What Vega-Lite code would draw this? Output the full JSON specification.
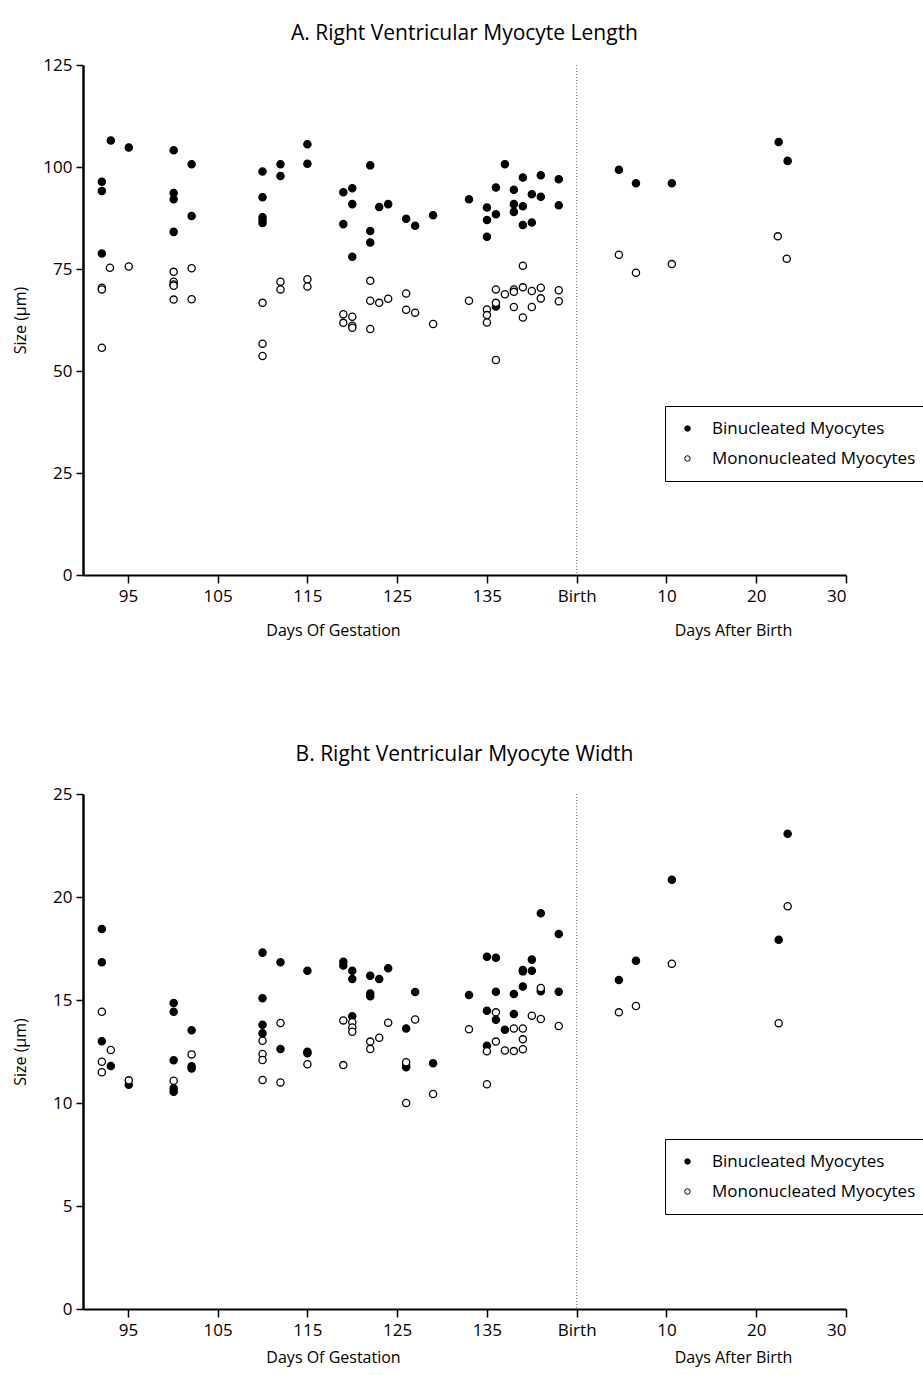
{
  "$schema": "https://vega.github.io/schema/vega-lite/v6.json",
  "padding": {"left": 12, "top": 23, "right": 0, "bottom": 2},
  "spacing": 106,
  "resolve": {"scale": {"fill": "independent"}, "legend": {"fill": "independent"}},
  "config": {
    "font": "Open Sans",
    "view": {"stroke": null},
    "axis": {
      "grid": false,
      "domainColor": "black",
      "tickColor": "black",
      "labelColor": "black",
      "titleColor": "black",
      "labelFontSize": 17,
      "titleFontSize": 16,
      "titleFontWeight": "normal",
      "labelFont": "Open Sans",
      "titleFont": "Open Sans"
    },
    "title": {"fontSize": 21, "fontWeight": "normal", "color": "black", "font": "Open Sans"},
    "legend": {
      "orient": "none",
      "strokeColor": "black",
      "fillColor": "white",
      "padding": 14,
      "labelFontSize": 17,
      "labelFont": "Open Sans",
      "labelColor": "black",
      "labelLimit": 500,
      "symbolType": "circle",
      "symbolSize": 30,
      "symbolStrokeColor": "black",
      "symbolStrokeWidth": 1,
      "rowPadding": 12,
      "labelOffset": 16
    }
  },
  "datasets": {
    "lenData": [
      {"day": 93.1, "size": 106.5, "type": "Binucleated Myocytes"},
      {"day": 95.1, "size": 104.8, "type": "Binucleated Myocytes"},
      {"day": 100.1, "size": 104.1, "type": "Binucleated Myocytes"},
      {"day": 102.1, "size": 100.7, "type": "Binucleated Myocytes"},
      {"day": 92.1, "size": 96.4, "type": "Binucleated Myocytes"},
      {"day": 92.1, "size": 94.1, "type": "Binucleated Myocytes"},
      {"day": 92.1, "size": 78.8, "type": "Binucleated Myocytes"},
      {"day": 100.1, "size": 93.6, "type": "Binucleated Myocytes"},
      {"day": 100.1, "size": 92.1, "type": "Binucleated Myocytes"},
      {"day": 102.1, "size": 88.0, "type": "Binucleated Myocytes"},
      {"day": 100.1, "size": 84.1, "type": "Binucleated Myocytes"},
      {"day": 110, "size": 98.9, "type": "Binucleated Myocytes"},
      {"day": 110, "size": 92.6, "type": "Binucleated Myocytes"},
      {"day": 110, "size": 87.7, "type": "Binucleated Myocytes"},
      {"day": 110, "size": 87.0, "type": "Binucleated Myocytes"},
      {"day": 110, "size": 86.3, "type": "Binucleated Myocytes"},
      {"day": 112, "size": 100.7, "type": "Binucleated Myocytes"},
      {"day": 112, "size": 97.8, "type": "Binucleated Myocytes"},
      {"day": 115, "size": 105.6, "type": "Binucleated Myocytes"},
      {"day": 115, "size": 100.8, "type": "Binucleated Myocytes"},
      {"day": 119, "size": 93.8, "type": "Binucleated Myocytes"},
      {"day": 120, "size": 94.8, "type": "Binucleated Myocytes"},
      {"day": 120, "size": 90.9, "type": "Binucleated Myocytes"},
      {"day": 119, "size": 86.0, "type": "Binucleated Myocytes"},
      {"day": 120, "size": 78.0, "type": "Binucleated Myocytes"},
      {"day": 122, "size": 100.4, "type": "Binucleated Myocytes"},
      {"day": 122, "size": 84.3, "type": "Binucleated Myocytes"},
      {"day": 122, "size": 81.5, "type": "Binucleated Myocytes"},
      {"day": 123, "size": 90.2, "type": "Binucleated Myocytes"},
      {"day": 124, "size": 90.9, "type": "Binucleated Myocytes"},
      {"day": 126, "size": 87.3, "type": "Binucleated Myocytes"},
      {"day": 127, "size": 85.6, "type": "Binucleated Myocytes"},
      {"day": 129, "size": 88.2, "type": "Binucleated Myocytes"},
      {"day": 133, "size": 92.1, "type": "Binucleated Myocytes"},
      {"day": 135, "size": 90.1, "type": "Binucleated Myocytes"},
      {"day": 135, "size": 87.0, "type": "Binucleated Myocytes"},
      {"day": 135, "size": 82.9, "type": "Binucleated Myocytes"},
      {"day": 136, "size": 95.0, "type": "Binucleated Myocytes"},
      {"day": 136, "size": 88.4, "type": "Binucleated Myocytes"},
      {"day": 136, "size": 65.8, "type": "Binucleated Myocytes"},
      {"day": 137, "size": 100.7, "type": "Binucleated Myocytes"},
      {"day": 138, "size": 94.4, "type": "Binucleated Myocytes"},
      {"day": 138, "size": 90.9, "type": "Binucleated Myocytes"},
      {"day": 138, "size": 89.0, "type": "Binucleated Myocytes"},
      {"day": 139, "size": 97.4, "type": "Binucleated Myocytes"},
      {"day": 139, "size": 90.4, "type": "Binucleated Myocytes"},
      {"day": 139, "size": 85.8, "type": "Binucleated Myocytes"},
      {"day": 140, "size": 93.3, "type": "Binucleated Myocytes"},
      {"day": 140, "size": 86.4, "type": "Binucleated Myocytes"},
      {"day": 141, "size": 98.0, "type": "Binucleated Myocytes"},
      {"day": 141, "size": 92.7, "type": "Binucleated Myocytes"},
      {"day": 143, "size": 97.0, "type": "Binucleated Myocytes"},
      {"day": 143, "size": 90.6, "type": "Binucleated Myocytes"},
      {"day": 149.7, "size": 99.3, "type": "Binucleated Myocytes"},
      {"day": 151.6, "size": 96.0, "type": "Binucleated Myocytes"},
      {"day": 155.6, "size": 96.0, "type": "Binucleated Myocytes"},
      {"day": 167.5, "size": 106.1, "type": "Binucleated Myocytes"},
      {"day": 168.5, "size": 101.5, "type": "Binucleated Myocytes"},
      {"day": 93.0, "size": 75.3, "type": "Mononucleated Myocytes"},
      {"day": 95.1, "size": 75.6, "type": "Mononucleated Myocytes"},
      {"day": 92.1, "size": 70.4, "type": "Mononucleated Myocytes"},
      {"day": 92.1, "size": 70.0, "type": "Mononucleated Myocytes"},
      {"day": 92.1, "size": 55.7, "type": "Mononucleated Myocytes"},
      {"day": 100.1, "size": 74.3, "type": "Mononucleated Myocytes"},
      {"day": 100.1, "size": 71.9, "type": "Mononucleated Myocytes"},
      {"day": 100.1, "size": 71.2, "type": "Mononucleated Myocytes"},
      {"day": 100.1, "size": 70.9, "type": "Mononucleated Myocytes"},
      {"day": 100.1, "size": 67.5, "type": "Mononucleated Myocytes"},
      {"day": 102.1, "size": 75.2, "type": "Mononucleated Myocytes"},
      {"day": 102.1, "size": 67.6, "type": "Mononucleated Myocytes"},
      {"day": 110, "size": 66.7, "type": "Mononucleated Myocytes"},
      {"day": 110, "size": 56.7, "type": "Mononucleated Myocytes"},
      {"day": 110, "size": 53.7, "type": "Mononucleated Myocytes"},
      {"day": 112, "size": 71.9, "type": "Mononucleated Myocytes"},
      {"day": 112, "size": 70.0, "type": "Mononucleated Myocytes"},
      {"day": 115, "size": 72.5, "type": "Mononucleated Myocytes"},
      {"day": 115, "size": 70.7, "type": "Mononucleated Myocytes"},
      {"day": 119, "size": 63.9, "type": "Mononucleated Myocytes"},
      {"day": 119, "size": 61.8, "type": "Mononucleated Myocytes"},
      {"day": 120, "size": 63.3, "type": "Mononucleated Myocytes"},
      {"day": 120, "size": 61.1, "type": "Mononucleated Myocytes"},
      {"day": 120, "size": 60.6, "type": "Mononucleated Myocytes"},
      {"day": 122, "size": 72.1, "type": "Mononucleated Myocytes"},
      {"day": 122, "size": 67.2, "type": "Mononucleated Myocytes"},
      {"day": 122, "size": 60.3, "type": "Mononucleated Myocytes"},
      {"day": 123, "size": 66.7, "type": "Mononucleated Myocytes"},
      {"day": 124, "size": 67.7, "type": "Mononucleated Myocytes"},
      {"day": 126, "size": 69.0, "type": "Mononucleated Myocytes"},
      {"day": 126, "size": 65.0, "type": "Mononucleated Myocytes"},
      {"day": 127, "size": 64.3, "type": "Mononucleated Myocytes"},
      {"day": 129, "size": 61.5, "type": "Mononucleated Myocytes"},
      {"day": 133, "size": 67.2, "type": "Mononucleated Myocytes"},
      {"day": 135, "size": 65.1, "type": "Mononucleated Myocytes"},
      {"day": 135, "size": 63.7, "type": "Mononucleated Myocytes"},
      {"day": 135, "size": 61.9, "type": "Mononucleated Myocytes"},
      {"day": 136, "size": 70.0, "type": "Mononucleated Myocytes"},
      {"day": 136, "size": 66.7, "type": "Mononucleated Myocytes"},
      {"day": 136, "size": 52.7, "type": "Mononucleated Myocytes"},
      {"day": 137, "size": 68.8, "type": "Mononucleated Myocytes"},
      {"day": 138, "size": 70.0, "type": "Mononucleated Myocytes"},
      {"day": 138, "size": 69.4, "type": "Mononucleated Myocytes"},
      {"day": 138, "size": 65.7, "type": "Mononucleated Myocytes"},
      {"day": 139, "size": 75.8, "type": "Mononucleated Myocytes"},
      {"day": 139, "size": 70.5, "type": "Mononucleated Myocytes"},
      {"day": 139, "size": 63.1, "type": "Mononucleated Myocytes"},
      {"day": 140, "size": 69.6, "type": "Mononucleated Myocytes"},
      {"day": 140, "size": 65.7, "type": "Mononucleated Myocytes"},
      {"day": 141, "size": 70.4, "type": "Mononucleated Myocytes"},
      {"day": 141, "size": 67.8, "type": "Mononucleated Myocytes"},
      {"day": 143, "size": 69.8, "type": "Mononucleated Myocytes"},
      {"day": 143, "size": 67.1, "type": "Mononucleated Myocytes"},
      {"day": 149.7, "size": 78.5, "type": "Mononucleated Myocytes"},
      {"day": 151.6, "size": 74.1, "type": "Mononucleated Myocytes"},
      {"day": 155.6, "size": 76.2, "type": "Mononucleated Myocytes"},
      {"day": 167.4, "size": 83.0, "type": "Mononucleated Myocytes"},
      {"day": 168.4, "size": 77.5, "type": "Mononucleated Myocytes"}
    ],
    "widData": [
      {"day": 92.1, "size": 18.45, "type": "Binucleated Myocytes"},
      {"day": 92.1, "size": 16.83, "type": "Binucleated Myocytes"},
      {"day": 92.1, "size": 13.0, "type": "Binucleated Myocytes"},
      {"day": 93.1, "size": 11.8, "type": "Binucleated Myocytes"},
      {"day": 95.1, "size": 10.89, "type": "Binucleated Myocytes"},
      {"day": 100.1, "size": 14.85, "type": "Binucleated Myocytes"},
      {"day": 100.1, "size": 14.43, "type": "Binucleated Myocytes"},
      {"day": 100.1, "size": 12.07, "type": "Binucleated Myocytes"},
      {"day": 100.1, "size": 10.71, "type": "Binucleated Myocytes"},
      {"day": 100.1, "size": 10.55, "type": "Binucleated Myocytes"},
      {"day": 102.1, "size": 13.53, "type": "Binucleated Myocytes"},
      {"day": 102.1, "size": 11.78, "type": "Binucleated Myocytes"},
      {"day": 102.1, "size": 11.68, "type": "Binucleated Myocytes"},
      {"day": 110, "size": 17.3, "type": "Binucleated Myocytes"},
      {"day": 110, "size": 15.08, "type": "Binucleated Myocytes"},
      {"day": 110, "size": 13.8, "type": "Binucleated Myocytes"},
      {"day": 110, "size": 13.38, "type": "Binucleated Myocytes"},
      {"day": 112, "size": 16.83, "type": "Binucleated Myocytes"},
      {"day": 112, "size": 12.62, "type": "Binucleated Myocytes"},
      {"day": 115, "size": 16.42, "type": "Binucleated Myocytes"},
      {"day": 115, "size": 12.49, "type": "Binucleated Myocytes"},
      {"day": 115, "size": 12.41, "type": "Binucleated Myocytes"},
      {"day": 119, "size": 16.86, "type": "Binucleated Myocytes"},
      {"day": 119, "size": 16.67, "type": "Binucleated Myocytes"},
      {"day": 120, "size": 16.42, "type": "Binucleated Myocytes"},
      {"day": 120, "size": 16.02, "type": "Binucleated Myocytes"},
      {"day": 120, "size": 14.21, "type": "Binucleated Myocytes"},
      {"day": 122, "size": 16.18, "type": "Binucleated Myocytes"},
      {"day": 122, "size": 15.31, "type": "Binucleated Myocytes"},
      {"day": 122, "size": 15.18, "type": "Binucleated Myocytes"},
      {"day": 123, "size": 16.02, "type": "Binucleated Myocytes"},
      {"day": 124, "size": 16.54, "type": "Binucleated Myocytes"},
      {"day": 127, "size": 15.39, "type": "Binucleated Myocytes"},
      {"day": 126, "size": 13.62, "type": "Binucleated Myocytes"},
      {"day": 126, "size": 11.81, "type": "Binucleated Myocytes"},
      {"day": 126, "size": 11.73, "type": "Binucleated Myocytes"},
      {"day": 129, "size": 11.93, "type": "Binucleated Myocytes"},
      {"day": 133, "size": 15.24, "type": "Binucleated Myocytes"},
      {"day": 135, "size": 17.1, "type": "Binucleated Myocytes"},
      {"day": 136, "size": 17.05, "type": "Binucleated Myocytes"},
      {"day": 135, "size": 14.48, "type": "Binucleated Myocytes"},
      {"day": 136, "size": 15.4, "type": "Binucleated Myocytes"},
      {"day": 136, "size": 14.04, "type": "Binucleated Myocytes"},
      {"day": 135, "size": 12.78, "type": "Binucleated Myocytes"},
      {"day": 137, "size": 13.56, "type": "Binucleated Myocytes"},
      {"day": 138, "size": 15.29, "type": "Binucleated Myocytes"},
      {"day": 138, "size": 14.32, "type": "Binucleated Myocytes"},
      {"day": 139, "size": 16.46, "type": "Binucleated Myocytes"},
      {"day": 139, "size": 16.39, "type": "Binucleated Myocytes"},
      {"day": 139, "size": 15.65, "type": "Binucleated Myocytes"},
      {"day": 140, "size": 16.96, "type": "Binucleated Myocytes"},
      {"day": 140, "size": 16.42, "type": "Binucleated Myocytes"},
      {"day": 141, "size": 19.21, "type": "Binucleated Myocytes"},
      {"day": 141, "size": 15.42, "type": "Binucleated Myocytes"},
      {"day": 143, "size": 18.2, "type": "Binucleated Myocytes"},
      {"day": 143, "size": 15.4, "type": "Binucleated Myocytes"},
      {"day": 149.7, "size": 15.97, "type": "Binucleated Myocytes"},
      {"day": 151.6, "size": 16.91, "type": "Binucleated Myocytes"},
      {"day": 155.6, "size": 20.84, "type": "Binucleated Myocytes"},
      {"day": 167.5, "size": 17.93, "type": "Binucleated Myocytes"},
      {"day": 168.5, "size": 23.07, "type": "Binucleated Myocytes"},
      {"day": 92.1, "size": 14.43, "type": "Mononucleated Myocytes"},
      {"day": 93.1, "size": 12.57, "type": "Mononucleated Myocytes"},
      {"day": 92.1, "size": 12.0, "type": "Mononucleated Myocytes"},
      {"day": 92.1, "size": 11.49, "type": "Mononucleated Myocytes"},
      {"day": 95.1, "size": 11.1, "type": "Mononucleated Myocytes"},
      {"day": 100.1, "size": 11.08, "type": "Mononucleated Myocytes"},
      {"day": 102.1, "size": 12.36, "type": "Mononucleated Myocytes"},
      {"day": 110, "size": 13.02, "type": "Mononucleated Myocytes"},
      {"day": 110, "size": 12.38, "type": "Mononucleated Myocytes"},
      {"day": 110, "size": 12.09, "type": "Mononucleated Myocytes"},
      {"day": 110, "size": 11.12, "type": "Mononucleated Myocytes"},
      {"day": 112, "size": 13.88, "type": "Mononucleated Myocytes"},
      {"day": 112, "size": 11.0, "type": "Mononucleated Myocytes"},
      {"day": 115, "size": 11.88, "type": "Mononucleated Myocytes"},
      {"day": 119, "size": 14.01, "type": "Mononucleated Myocytes"},
      {"day": 120, "size": 13.92, "type": "Mononucleated Myocytes"},
      {"day": 120, "size": 13.67, "type": "Mononucleated Myocytes"},
      {"day": 120, "size": 13.46, "type": "Mononucleated Myocytes"},
      {"day": 122, "size": 12.98, "type": "Mononucleated Myocytes"},
      {"day": 122, "size": 12.62, "type": "Mononucleated Myocytes"},
      {"day": 123, "size": 13.17, "type": "Mononucleated Myocytes"},
      {"day": 124, "size": 13.9, "type": "Mononucleated Myocytes"},
      {"day": 119, "size": 11.84, "type": "Mononucleated Myocytes"},
      {"day": 127, "size": 14.05, "type": "Mononucleated Myocytes"},
      {"day": 126, "size": 11.98, "type": "Mononucleated Myocytes"},
      {"day": 126, "size": 10.0, "type": "Mononucleated Myocytes"},
      {"day": 129, "size": 10.44, "type": "Mononucleated Myocytes"},
      {"day": 133, "size": 13.58, "type": "Mononucleated Myocytes"},
      {"day": 135, "size": 12.51, "type": "Mononucleated Myocytes"},
      {"day": 135, "size": 10.91, "type": "Mononucleated Myocytes"},
      {"day": 136, "size": 14.4, "type": "Mononucleated Myocytes"},
      {"day": 136, "size": 12.98, "type": "Mononucleated Myocytes"},
      {"day": 137, "size": 12.55, "type": "Mononucleated Myocytes"},
      {"day": 138, "size": 13.62, "type": "Mononucleated Myocytes"},
      {"day": 138, "size": 12.52, "type": "Mononucleated Myocytes"},
      {"day": 139, "size": 13.62, "type": "Mononucleated Myocytes"},
      {"day": 139, "size": 13.09, "type": "Mononucleated Myocytes"},
      {"day": 139, "size": 12.61, "type": "Mononucleated Myocytes"},
      {"day": 140, "size": 14.24, "type": "Mononucleated Myocytes"},
      {"day": 141, "size": 15.58, "type": "Mononucleated Myocytes"},
      {"day": 141, "size": 14.08, "type": "Mononucleated Myocytes"},
      {"day": 143, "size": 13.74, "type": "Mononucleated Myocytes"},
      {"day": 149.7, "size": 14.4, "type": "Mononucleated Myocytes"},
      {"day": 151.6, "size": 14.71, "type": "Mononucleated Myocytes"},
      {"day": 155.6, "size": 16.76, "type": "Mononucleated Myocytes"},
      {"day": 168.5, "size": 19.55, "type": "Mononucleated Myocytes"},
      {"day": 167.5, "size": 13.87, "type": "Mononucleated Myocytes"}
    ],
    "birth": [{"day": 145}]
  },
  "vconcat": [
    {
      "title": {"text": "A. Right Ventricular Myocyte Length", "offset": 12},
      "width": 763,
      "height": 510,
      "resolve": {"axis": {"x": "independent"}},
      "layer": [
        {
          "data": {"name": "birth"},
          "mark": {"type": "rule", "color": "#666", "strokeWidth": 1, "strokeDash": [1, 2]},
          "encoding": {
            "x": {
              "field": "day", "type": "quantitative",
              "scale": {"domain": [90, 175], "nice": false, "zero": false},
              "axis": {"orient": "bottom", "labels": false, "ticks": false, "domain": false, "title": "Days After Birth", "titleX": 650, "titleY": 47, "titleBaseline": "top"}
            }
          }
        },
        {
          "data": {"name": "lenData"},
          "mark": {"type": "point", "shape": "circle", "size": 52, "stroke": "black", "strokeWidth": 1.3, "opacity": 1},
          "encoding": {
            "x": {
              "field": "day", "type": "quantitative",
              "scale": {"domain": [90, 175], "nice": false, "zero": false},
              "axis": {
                "orient": "bottom",
                "values": [95, 105, 115, 125, 135, 145, 155, 165, 175],
                "labelExpr": "datum.value == 145 ? 'Birth' : (datum.value > 145 ? format(datum.value - 145, 'd') : format(datum.value, 'd'))",
                "domainWidth": 2.2, "tickWidth": 1.5, "tickSize": 8, "labelPadding": 5,
                "title": "Days Of Gestation", "titleX": 250, "titleY": 47, "titleBaseline": "top"
              }
            },
            "y": {
              "field": "size", "type": "quantitative",
              "scale": {"domain": [0, 125], "nice": false},
              "axis": {"values": [0, 25, 50, 75, 100, 125], "domainWidth": 2.5, "tickWidth": 1.5, "tickSize": 7, "labelPadding": 4, "title": "Size (µm)", "titlePadding": 14}
            },
            "fill": {
              "field": "type", "type": "nominal",
              "scale": {"domain": ["Binucleated Myocytes", "Mononucleated Myocytes"], "range": ["black", "white"]},
              "legend": {"title": null, "legendX": 582, "legendY": 341, "labelExpr": "datum.label + '\u00a0\u00a0\u00a0\u00a0\u00a0\u00a0'"}
            }
          }
        }
      ]
    },
    {
      "title": {"text": "B. Right Ventricular Myocyte Width", "offset": 20},
      "width": 763,
      "height": 515,
      "resolve": {"axis": {"x": "independent"}},
      "layer": [
        {
          "data": {"name": "birth"},
          "mark": {"type": "rule", "color": "#666", "strokeWidth": 1, "strokeDash": [1, 2]},
          "encoding": {
            "x": {
              "field": "day", "type": "quantitative",
              "scale": {"domain": [90, 175], "nice": false, "zero": false},
              "axis": {"orient": "bottom", "labels": false, "ticks": false, "domain": false, "title": "Days After Birth", "titleX": 650, "titleY": 40, "titleBaseline": "top"}
            }
          }
        },
        {
          "data": {"name": "widData"},
          "mark": {"type": "point", "shape": "circle", "size": 52, "stroke": "black", "strokeWidth": 1.3, "opacity": 1},
          "encoding": {
            "x": {
              "field": "day", "type": "quantitative",
              "scale": {"domain": [90, 175], "nice": false, "zero": false},
              "axis": {
                "orient": "bottom",
                "values": [95, 105, 115, 125, 135, 145, 155, 165, 175],
                "labelExpr": "datum.value == 145 ? 'Birth' : (datum.value > 145 ? format(datum.value - 145, 'd') : format(datum.value, 'd'))",
                "domainWidth": 2.2, "tickWidth": 1.5, "tickSize": 8, "labelPadding": 5,
                "title": "Days Of Gestation", "titleX": 250, "titleY": 40, "titleBaseline": "top"
              }
            },
            "y": {
              "field": "size", "type": "quantitative",
              "scale": {"domain": [0, 25], "nice": false},
              "axis": {"values": [0, 5, 10, 15, 20, 25], "domainWidth": 2.5, "tickWidth": 1.5, "tickSize": 7, "labelPadding": 4, "title": "Size (µm)", "titlePadding": 24}
            },
            "fill": {
              "field": "type", "type": "nominal",
              "scale": {"domain": ["Binucleated Myocytes", "Mononucleated Myocytes"], "range": ["black", "white"]},
              "legend": {"title": null, "legendX": 582, "legendY": 345, "labelExpr": "datum.label + '\u00a0\u00a0\u00a0\u00a0\u00a0\u00a0'"}
            }
          }
        }
      ]
    }
  ]
}
